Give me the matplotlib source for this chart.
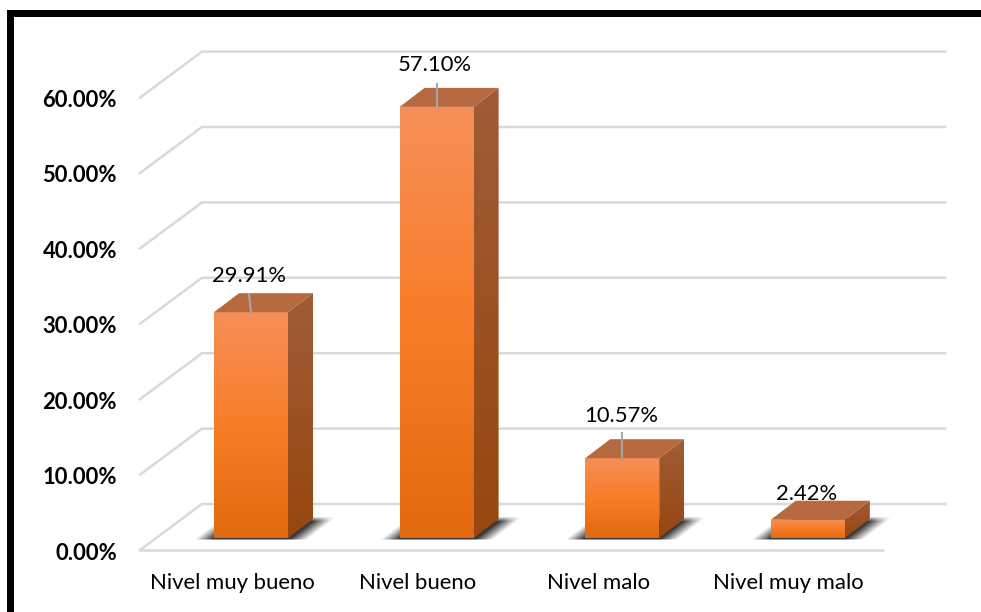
import matplotlib
matplotlib.use("Agg")
import matplotlib.pyplot as plt
import numpy as np
from matplotlib.patches import Polygon, Rectangle
from matplotlib.colors import LinearSegmentedColormap

categorias = ["Nivel muy bueno", "Nivel bueno", "Nivel malo", "Nivel muy malo"]
valores = [29.91, 57.10, 10.57, 2.42]
etiquetas = ["29.91%", "57.10%", "10.57%", "2.42%"]
ticks = [0, 10, 20, 30, 40, 50, 60]
tick_labels = ["0.00%", "10.00%", "20.00%", "30.00%", "40.00%", "50.00%", "60.00%"]

plt.rcParams["font.family"] = ["Lato", "DejaVu Sans"]

# escala de los ejes: pixeles por categoria y por punto porcentual
PX_CAT = 185.6
PX_VAL = 7.55
X0 = 251.0
Y0 = 538.0

# separacion de cada etiqueta sobre su barra y largo de su guia, en pixeles
sep_etiqueta = [36, 42, 42, 26]
largo_guia = [18, 23, 25, 0]
incl_guia = [-2, 0, 0, 0]
despl_categoria = [-19, -19, -24, -19]


def dx(px):
    return px / PX_CAT


def dy(px):
    return px / PX_VAL


fig = plt.figure(figsize=(9.81, 6.12), dpi=100)
ax = fig.add_axes([0, 0, 1, 1])
ax.set_xlim(-X0 / PX_CAT, (981 - X0) / PX_CAT)
ax.set_ylim((Y0 - 612) / PX_VAL, Y0 / PX_VAL)
ax.axis("off")

# marco negro
ax.add_patch(Rectangle((0, 0), 1, 1, transform=ax.transAxes, fc="white", ec="none", zorder=0))
negro = dict(transform=ax.transAxes, fc="black", ec="none", zorder=10)
ax.add_patch(Rectangle((7 / 981, 0), 7 / 981, 1 - 10 / 612, **negro))
ax.add_patch(Rectangle((7 / 981, 1 - 16.5 / 612), 974 / 981, 6.5 / 612, **negro))

# rejilla: pared del fondo, diagonal lateral y piso
gris = "#d9d9d9"
izq = dx(140 - X0)
der = dx(883 - X0)
prof_x = dx(62)
prof_y = dy(46)
base = dy(-12)
for t, lab in zip(ticks, tick_labels):
    y = base + t * 75.4 / PX_VAL / 10
    ax.plot([izq, izq + prof_x, der + prof_x], [y, y + prof_y, y + prof_y], color=gris, lw=1.8, zorder=1,
            solid_joinstyle="miter")
    ax.text(dx(117 - X0), y - dy(3), lab, ha="right", va="center", fontsize=15.8, fontweight="bold", color="black")
ax.plot([izq, der], [base, base], color=gris, lw=1.8, zorder=1)

cm_frente = LinearSegmentedColormap.from_list("frente", ["#f58f58", "#f97d28", "#e2690f"])
cm_lado = LinearSegmentedColormap.from_list("lado", ["#9f5c37", "#97470f"])
grad = np.linspace(0, 1, 256).reshape(-1, 1)

ancho = dx(74)
px = dx(25)
py = dy(19)

# sombra difusa: paralelogramo con bordes suaves, medido en pixeles desde el centro de la base
sx, sy = np.meshgrid(np.arange(-70, 90), np.arange(24, -4, -1))
sesgo = np.abs(sx - sy * 25 / 19)
alfa = np.clip((56 - sesgo) / 18, 0, 1) * np.clip((22 - sy) / 5, 0, 1) * np.clip((sy + 2) / 2, 0, 1) * 0.78
sombra = np.zeros(sx.shape + (4,))
sombra[..., 3] = alfa

for i, (v, etq) in enumerate(zip(valores, etiquetas)):
    x1 = i - ancho / 2
    x2 = i + ancho / 2

    ax.imshow(sombra, extent=(i + dx(-70), i + dx(90), dy(-4), dy(24)), aspect="auto", zorder=2)

    # cara frontal
    img = ax.imshow(grad, cmap=cm_frente, extent=(x1, x2, 0, v), aspect="auto", zorder=4)
    img.set_clip_path(Rectangle((x1, 0), ancho, v, transform=ax.transData))

    # cara lateral
    lado = Polygon([(x2, 0), (x2 + px, py), (x2 + px, v + py), (x2, v)], transform=ax.transData, fc="none", ec="none")
    ax.add_patch(lado)
    img2 = ax.imshow(grad, cmap=cm_lado, extent=(x2, x2 + px, 0, v + py), aspect="auto", zorder=4)
    img2.set_clip_path(lado)

    # cara superior
    ax.add_patch(Polygon([(x1, v), (x2, v), (x2 + px, v + py), (x1 + px, v + py)], fc="#b76a40", ec="none", zorder=4))

    # guia de la etiqueta
    if largo_guia[i] > 0:
        ax.plot([i, i + dx(incl_guia[i])], [v, v + dy(largo_guia[i])], color="#a6a6a6", lw=1.5, zorder=5)
    # la etiqueta queda detras de las caras de la barra
    ax.text(i - dx(1.5), v + dy(sep_etiqueta[i]), etq, ha="center", va="center", fontsize=15.8, color="black", zorder=3)
    ax.text(i + dx(despl_categoria[i]), dy(-45), categorias[i], ha="center", va="center", fontsize=15.9, color="black")

ax.set_xlim(-X0 / PX_CAT, (981 - X0) / PX_CAT)
ax.set_ylim((Y0 - 612) / PX_VAL, Y0 / PX_VAL)
fig.savefig("out.png", dpi=100)
